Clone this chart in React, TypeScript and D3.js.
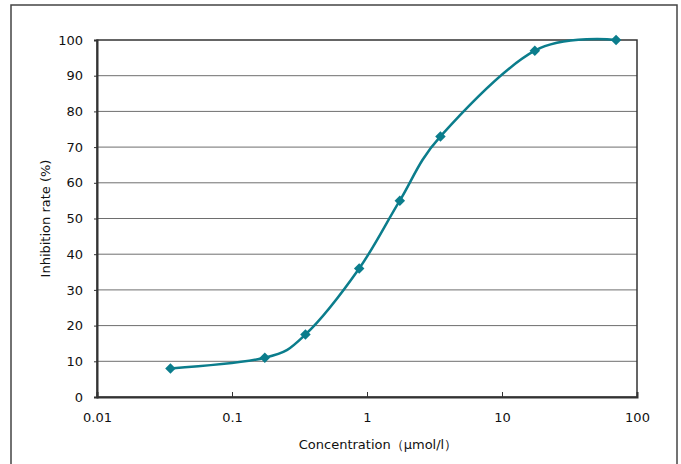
import React, { useEffect, useRef } from 'react';
import * as d3 from 'd3';

// concentration (µmol/l) and inhibition rate (%)
const concentrations = [0.035, 0.175, 0.35, 0.875, 1.75, 3.5, 17.5, 70];
const inhibition = [8, 11, 17.5, 36, 55, 73, 97, 100];
const xTicks = [0.01, 0.1, 1, 10, 100];
const yTicks = [0, 10, 20, 30, 40, 50, 60, 70, 80, 90, 100];

const W = 681;
const H = 464;
const margin = { top: 40, right: 44, bottom: 67, left: 97 };
const teal = '#0b7d8c';

const App = () => {
    const svgRef = useRef<SVGSVGElement>(null);

    useEffect(() => {
        const svg = d3.select(svgRef.current);
        svg.selectAll('*').remove();

        const x = d3.scaleLog()
            .domain([0.01, 100])
            .range([margin.left, W - margin.right]);
        const y = d3.scaleLinear()
            .domain([0, 100])
            .range([H - margin.bottom, margin.top]);

        // outer frame
        svg.append('rect')
            .attr('x', 11).attr('y', 5)
            .attr('width', 666).attr('height', 470)
            .attr('fill', 'white')
            .attr('stroke', '#444')
            .attr('stroke-width', 1.5);

        // gridlines
        svg.append('g')
            .selectAll('line')
            .data(yTicks.slice(1, -1))
            .enter()
            .append('line')
            .attr('x1', margin.left).attr('x2', W - margin.right)
            .attr('y1', (d) => y(d)).attr('y2', (d) => y(d))
            .attr('stroke', '#6e6e6e')
            .attr('stroke-width', 1);

        // plot border
        svg.append('rect')
            .attr('x', margin.left).attr('y', margin.top)
            .attr('width', W - margin.right - margin.left)
            .attr('height', H - margin.bottom - margin.top)
            .attr('fill', 'none')
            .attr('stroke', '#333')
            .attr('stroke-width', 1.5);

        const font = 'DejaVu Sans, sans-serif';

        const yAxis = svg.append('g')
            .attr('transform', `translate(${margin.left},0)`)
            .call(d3.axisLeft(y).tickValues(yTicks).tickSize(3).tickPadding(11).tickFormat(d3.format('d')));
        yAxis.select('.domain').attr('stroke', '#333').attr('stroke-width', 2);
        yAxis.selectAll('.tick line').attr('stroke', '#333');
        yAxis.selectAll('text').attr('font-size', 13).attr('font-family', font).attr('fill', '#111');

        const xAxis = svg.append('g')
            .attr('transform', `translate(0,${H - margin.bottom})`)
            .call(d3.axisBottom(x).tickValues(xTicks).tickSize(-5).tickPadding(16)
                .tickFormat((d) => String(d)));
        xAxis.select('.domain').attr('stroke', '#333').attr('stroke-width', 2);
        xAxis.selectAll('.tick line').attr('stroke', '#333');
        xAxis.selectAll('text').attr('font-size', 13).attr('font-family', font).attr('fill', '#111');

        svg.append('text')
            .attr('transform', `translate(50,${(margin.top + H - margin.bottom) / 2}) rotate(-90)`)
            .attr('text-anchor', 'middle')
            .attr('font-size', 13)
            .attr('font-family', font)
            .attr('fill', '#111')
            .text('Inhibition rate (%)');

        svg.append('text')
            .attr('x', 378).attr('y', 449)
            .attr('text-anchor', 'middle')
            .attr('font-size', 13)
            .attr('font-family', font)
            .attr('fill', '#111')
            .text('Concentration（μmol/l）');

        const pts: [number, number][] = concentrations.map((c, i) => [x(c), y(inhibition[i])]);

        svg.append('path')
            .datum(pts)
            .attr('d', d3.line().curve(d3.curveCatmullRom.alpha(0)))
            .attr('fill', 'none')
            .attr('stroke', teal)
            .attr('stroke-width', 2.5);

        svg.append('g')
            .selectAll('path')
            .data(pts)
            .enter()
            .append('path')
            .attr('d', d3.symbol(d3.symbolDiamond2, 70))
            .attr('transform', (d) => `translate(${d[0]},${d[1]})`)
            .attr('fill', teal);
    }, []);

    return (
        <svg ref={svgRef} width={W} height={H} style={{ position: 'absolute', left: 0, top: 0 }}></svg>
    );
};

export default App;
